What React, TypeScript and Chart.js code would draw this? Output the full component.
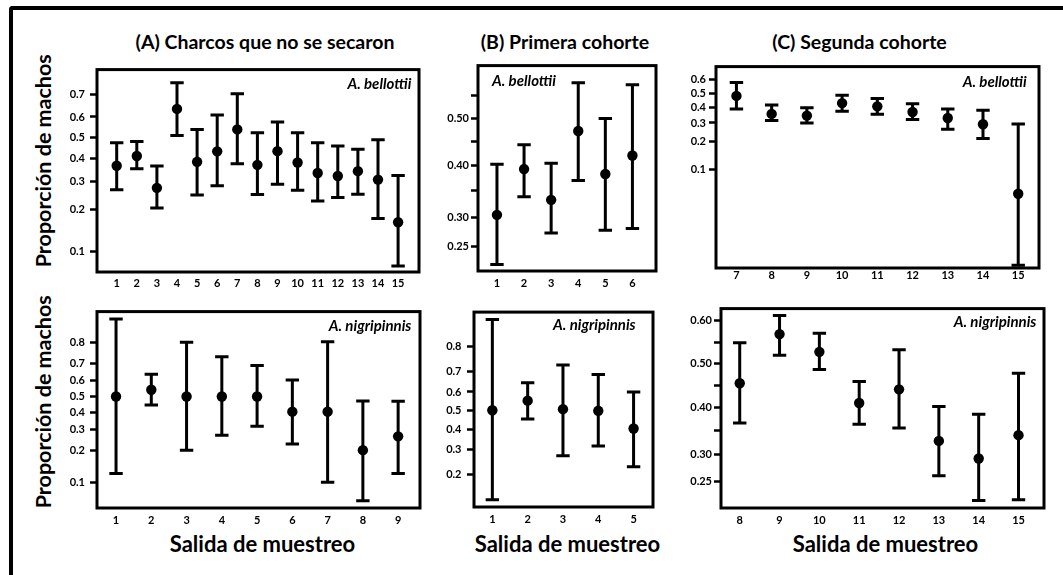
import React, { useEffect, useRef } from 'react';
import { Chart, LinearScale, registerables } from 'chart.js';

Chart.register(...registerables);
Chart.defaults.font.family = 'Lato';

// ---------- Data: proporción de machos con intervalos ----------
// (A) Charcos que no se secaron — A. bellottii
const aBelSalidas = [1, 2, 3, 4, 5, 6, 7, 8, 9, 10, 11, 12, 13, 14, 15];
const aBelProporcion = [0.368, 0.413, 0.275, 0.637, 0.386, 0.435, 0.541, 0.372, 0.436, 0.383, 0.336, 0.323, 0.344, 0.308, 0.163];
const aBelInferior = [0.268, 0.355, 0.204, 0.511, 0.248, 0.283, 0.377, 0.25, 0.289, 0.266, 0.227, 0.239, 0.251, 0.173, 0.077];
const aBelSuperior = [0.476, 0.482, 0.367, 0.745, 0.54, 0.609, 0.702, 0.525, 0.577, 0.525, 0.476, 0.461, 0.445, 0.491, 0.325];

// (B) Primera cohorte — A. bellottii
const bBelSalidas = [1, 2, 3, 4, 5, 6];
const bBelProporcion = [0.304, 0.393, 0.332, 0.473, 0.383, 0.421];
const bBelInferior = [0.222, 0.338, 0.272, 0.37, 0.277, 0.28];
const bBelSuperior = [0.403, 0.444, 0.405, 0.576, 0.5, 0.572];

// (C) Segunda cohorte — A. bellottii
const cBelSalidas = [7, 8, 9, 10, 11, 12, 13, 14, 15];
const cBelProporcion = [0.485, 0.358, 0.347, 0.433, 0.41, 0.371, 0.331, 0.292, 0.052];
const cBelInferior = [0.392, 0.316, 0.3, 0.376, 0.356, 0.322, 0.263, 0.215, 0.0068];
const cBelSuperior = [0.581, 0.419, 0.401, 0.49, 0.466, 0.428, 0.392, 0.383, 0.294];

// (A) Charcos que no se secaron — A. nigripinnis
const aNigSalidas = [1, 2, 3, 4, 5, 6, 7, 8, 9];
const aNigProporcion = [0.5, 0.543, 0.5, 0.5, 0.5, 0.404, 0.404, 0.202, 0.265];
const aNigInferior = [0.122, 0.446, 0.202, 0.27, 0.318, 0.229, 0.1, 0.065, 0.122];
const aNigSuperior = [0.879, 0.639, 0.8, 0.734, 0.689, 0.604, 0.802, 0.471, 0.47];

// (B) Primera cohorte — A. nigripinnis
const bNigSalidas = [1, 2, 3, 4, 5];
const bNigProporcion = [0.502, 0.554, 0.508, 0.499, 0.404];
const bNigInferior = [0.126, 0.455, 0.273, 0.317, 0.228];
const bNigSuperior = [0.879, 0.647, 0.73, 0.687, 0.6];

// (C) Segunda cohorte — A. nigripinnis
const cNigSalidas = [8, 9, 10, 11, 12, 13, 14, 15];
const cNigProporcion = [0.455, 0.569, 0.528, 0.41, 0.441, 0.328, 0.293, 0.34];
const cNigInferior = [0.366, 0.52, 0.487, 0.363, 0.355, 0.261, 0.219, 0.22];
const cNigSuperior = [0.549, 0.611, 0.571, 0.459, 0.533, 0.402, 0.385, 0.478];

// ---------- Y tick values and labels ----------
const ticksABel = [0.1, 0.2, 0.3, 0.4, 0.5, 0.6, 0.7];
const labelsABel = ['0.1', '0.2', '0.3', '0.4', '0.5', '0.6', '0.7'];
const ticksBBel = [0.25, 0.3, 0.35, 0.4, 0.45, 0.5, 0.55];
const labelsBBel = ['0.25', '0.30', '', '0.40', '', '0.50', ''];
const ticksCBel = [0.1, 0.2, 0.3, 0.4, 0.5, 0.6];
const labelsCBel = ['0.1', '0.2', '0.3', '0.4', '0.5', '0.6'];
const ticksANig = [0.1, 0.2, 0.3, 0.4, 0.5, 0.6, 0.7, 0.8];
const labelsANig = ['0.1', '0.2', '0.3', '0.4', '0.5', '0.6', '0.7', '0.8'];
const ticksBNig = [0.2, 0.3, 0.4, 0.5, 0.6, 0.7, 0.8];
const labelsBNig = ['0.2', '0.3', '0.4', '0.5', '0.6', '0.7', '0.8'];
const ticksCNig = [0.25, 0.3, 0.35, 0.4, 0.45, 0.5, 0.55, 0.6];
const labelsCNig = ['0.25', '0.30', '', '0.40', '', '0.50', '', '0.60'];

// ---------- Logit-scaled value axis ----------
const logit = (p: number) => Math.log(p / (1 - p));
const expit = (l: number) => 1 / (1 + Math.exp(-l));

class LogitScale extends LinearScale {
  static id = 'logit';
  buildTicks() {
    return [];
  }
  configure() {
    super.configure();
    (this as any)._lmin = logit(this.min);
    (this as any)._lmax = logit(this.max);
  }
  getPixelForValue(value: number) {
    if (value === null || value === undefined || isNaN(value)) return NaN;
    const lmin = (this as any)._lmin;
    const lmax = (this as any)._lmax;
    return this.getPixelForDecimal((logit(value) - lmin) / (lmax - lmin));
  }
  getValueForPixel(pixel: number) {
    const lmin = (this as any)._lmin;
    const lmax = (this as any)._lmax;
    return expit(lmin + this.getDecimalForPixel(pixel) * (lmax - lmin));
  }
}
Chart.register(LogitScale as any);

// ---------- Panel layout ----------
const AXIS_W = 60;
const AXIS_H = 26;
const PAD = 6;
const CAP = 6.7;
const TICK_FONT = { family: 'Lato', size: 11, weight: 'bold' as const };

type Panel = {
  salidas: number[];
  prop: number[];
  lo: number[];
  hi: number[];
  yTicks: number[];
  yLabels: string[];
  yMin: number;
  yMax: number;
  xMin: number;
  xMax: number;
  frame: [number, number, number, number];
  species: string;
  speciesAlign: 'left' | 'right';
  speciesDx: number;
  speciesDy: number;
  xPad: number;
  yPad: number;
};

const panels: Panel[] = [
  {
    salidas: aBelSalidas, prop: aBelProporcion, lo: aBelInferior, hi: aBelSuperior,
    yTicks: ticksABel, yLabels: labelsABel, yMin: 0.069, yMax: 0.79, xMin: 0.02, xMax: 16.04,
    frame: [97, 64, 419, 272], species: 'A. bellottii', speciesAlign: 'right', speciesDx: 7.6, speciesDy: 19.3,
    xPad: 4.4, yPad: 5,
  },
  {
    salidas: bBelSalidas, prop: bBelProporcion, lo: bBelInferior, hi: bBelSuperior,
    yTicks: ticksBBel, yLabels: labelsBBel, yMin: 0.2124, yMax: 0.6116, xMin: 0.3, xMax: 6.87,
    frame: [478, 63, 656, 271], species: 'A. bellottii', speciesAlign: 'left', speciesDx: 14, speciesDy: 20.3,
    xPad: 5.4, yPad: 2,
  },
  {
    salidas: cBelSalidas, prop: cBelProporcion, lo: cBelInferior, hi: cBelSuperior,
    yTicks: ticksCBel, yLabels: labelsCBel, yMin: 0.0063, yMax: 0.688, xMin: 6.42, xMax: 15.59,
    frame: [716, 63, 1039, 268], species: 'A. bellottii', speciesAlign: 'right', speciesDx: 12.3, speciesDy: 20.3,
    xPad: 1.1, yPad: 3,
  },
  {
    salidas: aNigSalidas, prop: aNigProporcion, lo: aNigInferior, hi: aNigSuperior,
    yTicks: ticksANig, yLabels: labelsANig, yMin: 0.0545, yMax: 0.8977, xMin: 0.46, xMax: 9.62,
    frame: [97, 306, 420, 508], species: 'A. nigripinnis', speciesAlign: 'right', speciesDx: 8.6, speciesDy: 19,
    xPad: 6.1, yPad: 5,
  },
  {
    salidas: bNigSalidas, prop: bNigProporcion, lo: bNigInferior, hi: bNigSuperior,
    yTicks: ticksBNig, yLabels: labelsBNig, yMin: 0.1095, yMax: 0.895, xMin: 0.48, xMax: 5.55,
    frame: [474, 306, 653, 507], species: 'A. nigripinnis', speciesAlign: 'right', speciesDx: 17.3, speciesDy: 18,
    xPad: 5.4, yPad: 5.5,
  },
  {
    salidas: cNigSalidas, prop: cNigProporcion, lo: cNigInferior, hi: cNigSuperior,
    yTicks: ticksCNig, yLabels: labelsCNig, yMin: 0.2072, yMax: 0.626, xMin: 7.53, xMax: 15.64,
    frame: [721, 306, 1044, 508], species: 'A. nigripinnis', speciesAlign: 'right', speciesDx: 7.6, speciesDy: 18.3,
    xPad: 6.1, yPad: 2,
  },
];

function PanelChart({ p }: { p: Panel }) {
  const ref = useRef<HTMLCanvasElement>(null);
  const [l, t, r, b] = p.frame;
  const W = r - l + AXIS_W + PAD;
  const H = b - t + PAD + AXIS_H;

  useEffect(() => {
    if (!ref.current) return;
    const decor = {
      id: 'panelDecor',
      beforeDatasetsDraw(chart: any) {
        const { ctx } = chart;
        const x = chart.scales.x;
        const y = chart.scales.y;
        ctx.save();
        ctx.strokeStyle = '#000';
        ctx.lineWidth = 3;
        p.salidas.forEach((s, i) => {
          const px = x.getPixelForValue(s);
          const yl = y.getPixelForValue(p.lo[i]);
          const yh = y.getPixelForValue(p.hi[i]);
          ctx.beginPath();
          ctx.moveTo(px, yl);
          ctx.lineTo(px, yh);
          ctx.moveTo(px - CAP, yl);
          ctx.lineTo(px + CAP, yl);
          ctx.moveTo(px - CAP, yh);
          ctx.lineTo(px + CAP, yh);
          ctx.stroke();
        });
        ctx.restore();
      },
      afterDraw(chart: any) {
        const { ctx, chartArea: a } = chart;
        ctx.save();
        ctx.strokeStyle = '#000';
        ctx.lineWidth = 3;
        ctx.strokeRect(a.left, a.top, a.right - a.left, a.bottom - a.top);
        ctx.font = 'italic bold 15px Lato';
        ctx.fillStyle = '#000';
        ctx.textBaseline = 'alphabetic';
        ctx.textAlign = p.speciesAlign;
        const sx = p.speciesAlign === 'right' ? a.right - p.speciesDx : a.left + p.speciesDx;
        ctx.fillText(p.species, sx, a.top + p.speciesDy);
        ctx.restore();
      },
    };

    const chart = new Chart(ref.current, {
      type: 'scatter',
      data: {
        datasets: [
          {
            data: p.salidas.map((s, i) => ({ x: s, y: p.prop[i] })),
            pointRadius: 5.2,
            pointBackgroundColor: '#000',
            pointBorderWidth: 0,
            showLine: false,
          },
        ],
      },
      options: {
        animation: false,
        responsive: false,
        maintainAspectRatio: false,
        events: [],
        layout: { padding: { left: 0, top: PAD, right: PAD, bottom: 0 } },
        plugins: { legend: { display: false }, tooltip: { enabled: false }, title: { display: false } },
        scales: {
          x: {
            type: 'linear',
            position: 'bottom',
            min: p.xMin,
            max: p.xMax,
            bounds: 'data',
            afterBuildTicks: (s: any) => {
              s.ticks = p.salidas.map((v) => ({ value: v }));
            },
            afterFit: (s: any) => {
              s.height = AXIS_H;
            },
            grid: { display: false, drawTicks: false },
            border: { display: false },
            ticks: {
              autoSkip: false,
              maxRotation: 0,
              padding: p.xPad,
              color: '#000',
              font: TICK_FONT,
              callback: (_v: any, i: number) => String(p.salidas[i]),
            },
          },
          y: {
            type: 'logit' as any,
            position: 'left',
            min: p.yMin,
            max: p.yMax,
            bounds: 'data',
            afterBuildTicks: (s: any) => {
              s.ticks = p.yTicks.map((v) => ({ value: v }));
            },
            afterFit: (s: any) => {
              s.width = AXIS_W;
            },
            grid: {
              display: true,
              drawOnChartArea: false,
              drawTicks: true,
              tickLength: 7,
              tickWidth: 2.5,
              tickColor: '#000',
            },
            border: { display: false },
            ticks: {
              autoSkip: false,
              padding: p.yPad,
              color: '#000',
              font: TICK_FONT,
              callback: (_v: any, i: number) => p.yLabels[i],
            },
          },
        } as any,
      },
      plugins: [decor],
    });
    return () => chart.destroy();
  }, [p]);

  return (
    <canvas
      ref={ref}
      width={W}
      height={H}
      style={{ position: 'absolute', left: l - AXIS_W, top: t - PAD, width: W, height: H }}
    />
  );
}

const textBase: React.CSSProperties = {
  position: 'absolute',
  whiteSpace: 'nowrap',
  fontFamily: 'Lato',
  fontWeight: 700,
  color: '#000',
  lineHeight: 1,
  textAlign: 'center',
};

function Heading({ text, cx, top, size }: { text: string; cx: number; top: number; size: number }) {
  return <div style={{ ...textBase, left: cx - 200, width: 400, top, fontSize: size, height: size }}>{text}</div>;
}

function SideHeading({ text, cx, cy, size }: { text: string; cx: number; cy: number; size: number }) {
  return (
    <div
      style={{
        ...textBase,
        left: cx - 150,
        top: cy - size / 2,
        width: 300,
        height: size,
        fontSize: size,
        transform: 'rotate(-90deg)',
      }}
    >
      {text}
    </div>
  );
}

export default function App() {
  return (
    <div
      style={{
        position: 'fixed',
        left: 0,
        top: 0,
        width: 1063,
        height: 575,
        overflow: 'hidden',
        background: '#fff',
      }}
    >
      <div
        style={{
          position: 'absolute',
          left: 9,
          top: 6,
          width: 1200,
          height: 700,
          borderLeft: '4px solid #000',
          borderTop: '4px solid #000',
          borderTopLeftRadius: 4,
        }}
      />
      <Heading text="(A) Charcos que no se secaron" cx={265} top={32} size={19.5} />
      <Heading text="(B) Primera cohorte" cx={565} top={32} size={19.5} />
      <Heading text="(C) Segunda cohorte" cx={859.5} top={32} size={19.5} />
      <SideHeading text="Proporción de machos" cx={44} cy={161} size={21.5} />
      <SideHeading text="Proporción de machos" cx={44} cy={401.5} size={21.5} />
      <Heading text="Salida de muestreo" cx={262.5} top={532.6} size={22} />
      <Heading text="Salida de muestreo" cx={567.5} top={532.6} size={22} />
      <Heading text="Salida de muestreo" cx={885.5} top={532.6} size={22} />
      {panels.map((p, i) => (
        <PanelChart key={i} p={p} />
      ))}
    </div>
  );
}
